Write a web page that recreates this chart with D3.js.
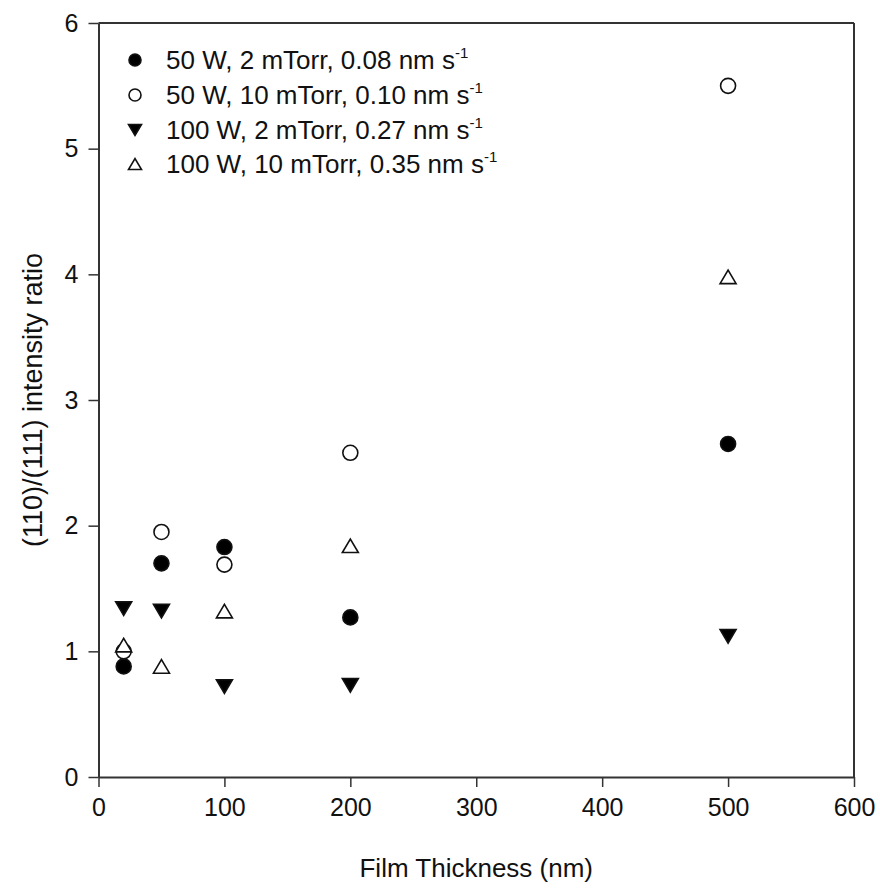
<!DOCTYPE html>
<html>
<head>
<meta charset="utf-8">
<script src="https://cdn.jsdelivr.net/npm/d3@7"></script>
<style>
  body { margin: 0; background: #fff; }
  svg { display: block; }
  text { font-family: "Liberation Sans", Arial, sans-serif; fill: #111; }
</style>
</head>
<body>
<svg id="chart" width="880" height="891"></svg>
<script>
// ---- data ----
const thickness = [20, 50, 100, 200, 500];
const s50W2 = [0.88, 1.70, 1.83, 1.27, 2.65];
const s50W10 = [1.00, 1.95, 1.69, 2.58, 5.50];
const s100W2 = [1.34, 1.32, 0.72, 0.73, 1.12];
const s100W10 = [1.05, 0.88, 1.32, 1.84, 3.98];
const seriesNames = ["50 W, 2 mTorr, 0.08 nm s", "50 W, 10 mTorr, 0.10 nm s", "100 W, 2 mTorr, 0.27 nm s", "100 W, 10 mTorr, 0.35 nm s"];
const xTicks = [0, 100, 200, 300, 400, 500, 600];
const yTicks = [0, 1, 2, 3, 4, 5, 6];

const svg = d3.select("#chart");
const m = { left: 98.5, right: 854, top: 23, bottom: 777 };
const x = d3.scaleLinear().domain([0, 600]).range([m.left, m.right]);
const y = d3.scaleLinear().domain([0, 6]).range([m.bottom, m.top]);
const axisColor = "#333";

// frame top/right
svg.append("line").attr("x1", m.left).attr("x2", m.right).attr("y1", m.top).attr("y2", m.top)
  .attr("stroke", axisColor).attr("stroke-width", 2);
svg.append("line").attr("x1", m.right).attr("x2", m.right).attr("y1", m.top).attr("y2", m.bottom)
  .attr("stroke", axisColor).attr("stroke-width", 2);

const fmt = d3.format("d");
const xAxis = svg.append("g").attr("transform", `translate(0,${m.bottom})`)
  .call(d3.axisBottom(x).tickValues(xTicks).tickFormat(fmt).tickSize(10).tickPadding(10).tickSizeOuter(0));
const yAxis = svg.append("g").attr("transform", `translate(${m.left},0)`)
  .call(d3.axisLeft(y).tickValues(yTicks).tickFormat(fmt).tickSize(10).tickPadding(10).tickSizeOuter(0));
[xAxis, yAxis].forEach(g => {
  g.select(".domain").attr("stroke", axisColor).attr("stroke-width", 2);
  g.selectAll(".tick line").attr("stroke", axisColor).attr("stroke-width", 1.5);
  g.selectAll(".tick text").attr("font-size", 25).attr("fill", "#111")
    .style("font-family", '"Liberation Sans", Arial, sans-serif');
});
xAxis.selectAll(".tick text").attr("dy", "0.75em");

// axis titles
svg.append("text").attr("x", x(300)).attr("y", 877).attr("text-anchor", "middle")
  .attr("font-size", 26).text("Film Thickness (nm)");
svg.append("text").attr("transform", `translate(42,${y(3)}) rotate(-90)`).attr("text-anchor", "middle")
  .attr("font-size", 27).text("(110)/(111) intensity ratio");

// markers
function tri(size, down) {
  const w = size, h = size * 0.85;
  return down ? `M${-w/2},${-h/2}L${w/2},${-h/2}L0,${h/2}Z` : `M${-w/2},${h/2}L${w/2},${h/2}L0,${-h/2}Z`;
}
const styles = [
  { type: "circle", fill: "#000" },
  { type: "circle", fill: "#fff" },
  { type: "down", fill: "#000" },
  { type: "up", fill: "#fff" }
];
function drawMarker(g, st, cx, cy, size) {
  if (st.type === "circle") {
    g.append("circle").attr("cx", cx).attr("cy", cy).attr("r", size / 2 - 0.5)
      .attr("fill", st.fill).attr("stroke", "#111").attr("stroke-width", 1.6);
  } else {
    g.append("path").attr("d", tri(size, st.type === "down"))
      .attr("transform", `translate(${cx},${cy})`)
      .attr("fill", st.fill).attr("stroke", "#111").attr("stroke-width", 1.6).attr("stroke-linejoin", "miter");
  }
}
const allSeries = [s50W2, s50W10, s100W2, s100W10];
const pts = svg.append("g");
allSeries.forEach((vals, i) => {
  vals.forEach((v, j) => drawMarker(pts, styles[i], x(thickness[j]), y(v), 16));
});

// legend
const leg = svg.append("g");
const rowY = [60, 95, 130, 164];
seriesNames.forEach((name, i) => {
  drawMarker(leg, styles[i], 135, rowY[i], 13);
  const t = leg.append("text").attr("x", 166).attr("y", rowY[i] + 9).attr("font-size", 26);
  t.append("tspan").text(name);
  t.append("tspan").attr("font-size", 15).attr("dy", -11).text("-1");
});
</script>
</body>
</html>
